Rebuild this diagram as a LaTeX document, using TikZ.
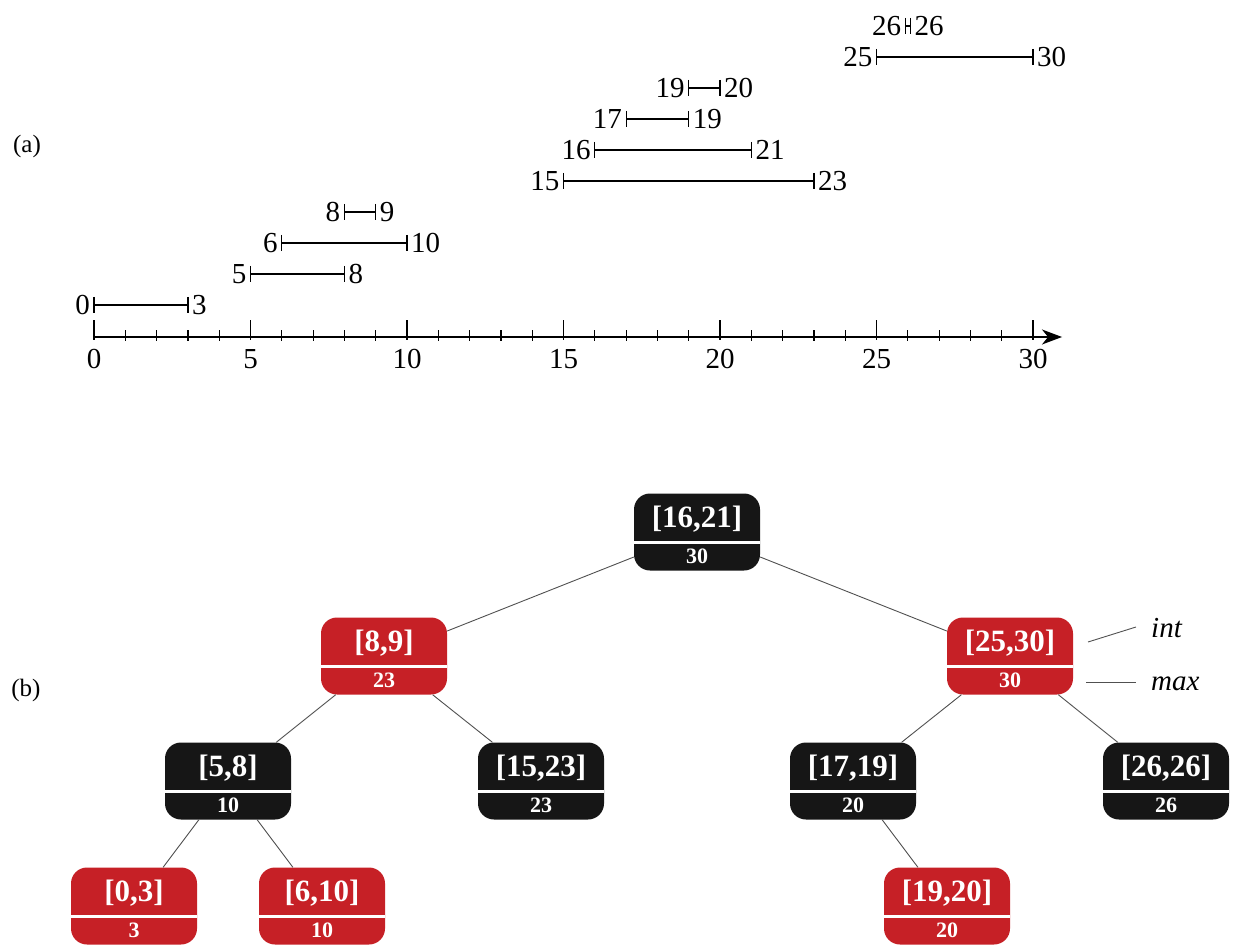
\documentclass[tikz,border=0pt]{standalone}
\usepackage{fontspec}
\setmainfont{Liberation Serif}
\usetikzlibrary{arrows.meta}
\definecolor{treered}{RGB}{198,32,38}
\definecolor{treeblack}{RGB}{22,22,22}
\definecolor{edgegray}{RGB}{80,80,80}
\newcommand\numfnt{\fontsize{29}{34}\selectfont}
\newcommand\intfnt{\bfseries\fontsize{31}{36}\selectfont}
\newcommand\maxfnt{\bfseries\fontsize{22}{26}\selectfont}
\newcommand\tnode[6]{%
  \node[tbox, fill=#4] (#1) at (#2,#3) {};
  \draw[divider] ([yshift=-10.5pt]#1.west) -- ([yshift=-10.5pt]#1.east);
  \node[inttxt] (#1i) at ([yshift=13pt]#1.center) {#5};
  \node[maxtxt] (#1m) at ([yshift=-24.5pt]#1.center) {#6};
}
\begin{document}
\begin{tikzpicture}[x=1pt,y=-1pt,
  tbox/.style={rectangle, rounded corners=16pt, minimum width=126pt, minimum height=77pt, inner sep=0pt, draw=none},
  divider/.style={white, line width=2.2pt},
  inttxt/.style={text=white, font=\intfnt, inner sep=0pt},
  maxtxt/.style={text=white, font=\maxfnt, inner sep=0pt},
  treeedge/.style={edgegray, line width=0.9pt},
  axisline/.style={line width=1.3pt, -{Stealth[length=20pt, width=15pt, inset=6pt]}},
  tickline/.style={line width=1.2pt},
  ivl/.style={line width=1.2pt},
  numlbl/.style={font=\numfnt, inner sep=0pt},
  partlbl/.style={font=\fontsize{25}{30}\selectfont, inner sep=0pt},
  annot/.style={font=\itshape\fontsize{29}{34}\selectfont, inner sep=0pt, anchor=west},
  annotline/.style={edgegray, line width=0.9pt}]
\useasboundingbox (0,0) rectangle (1233,949);

% ---------- (a) ----------
\node[partlbl] (pa) at (27,146) {(a)};
\coordinate (ax0) at (94,337);
\coordinate (axend) at (1062,337);
\draw[axisline] (ax0) -- (axend);
\foreach \v in {0,...,30}{
  \pgfmathsetmacro\xx{94+31.3*\v}
  \pgfmathtruncatemacro\md{mod(\v,5)}
  \ifnum\md=0
    \draw[tickline] (\xx,320) -- (\xx,340);
    \node[numlbl] (t\v) at (\xx,359) {\v};
  \else
    \draw[tickline] (\xx,330) -- (\xx,341);
  \fi
}
\foreach \a/\b/\r in {0/3/0, 5/8/1, 6/10/2, 8/9/3, 15/23/4, 16/21/5, 17/19/6, 19/20/7, 25/30/8, 26/26/9}{
  \pgfmathsetmacro\yy{305-31*\r}
  \ifnum\a=\b
    \pgfmathsetmacro\xa{94+31.3*\a-2.5}
    \pgfmathsetmacro\xb{94+31.3*\b+2.5}
  \else
    \pgfmathsetmacro\xa{94+31.3*\a}
    \pgfmathsetmacro\xb{94+31.3*\b}
  \fi
  \coordinate (s\r) at (\xa,\yy);
  \coordinate (e\r) at (\xb,\yy);
  \draw[ivl] (s\r) -- (e\r);
  \draw[ivl] ([yshift=8pt]s\r) -- ([yshift=-8pt]s\r);
  \draw[ivl] ([yshift=8pt]e\r) -- ([yshift=-8pt]e\r);
  \node[numlbl, anchor=east] (ls\r) at ([xshift=-4pt]s\r) {\a};
  \node[numlbl, anchor=west] (le\r) at ([xshift=4pt]e\r) {\b};
}

% ---------- (b) ----------
\node[partlbl] (pb) at (26,690) {(b)};
\tnode{n1621}{697}{532}{treeblack}{[16,21]}{30}
\tnode{n89}{384}{656}{treered}{[8,9]}{23}
\tnode{n2530}{1010}{656}{treered}{[25,30]}{30}
\tnode{n58}{228}{781}{treeblack}{[5,8]}{10}
\tnode{n1523}{541}{781}{treeblack}{[15,23]}{23}
\tnode{n1719}{853}{781}{treeblack}{[17,19]}{20}
\tnode{n2626}{1166}{781}{treeblack}{[26,26]}{26}
\tnode{n03}{134}{906}{treered}{[0,3]}{3}
\tnode{n610}{322}{906}{treered}{[6,10]}{10}
\tnode{n1920}{947}{906}{treered}{[19,20]}{20}

\draw[treeedge] (n1621) -- (n89);
\draw[treeedge] (n1621) -- (n2530);
\draw[treeedge] (n89) -- (n58);
\draw[treeedge] (n89) -- (n1523);
\draw[treeedge] (n2530) -- (n1719);
\draw[treeedge] (n2530) -- (n2626);
\draw[treeedge] (n58) -- (n03);
\draw[treeedge] (n58) -- (n610);
\draw[treeedge] (n1719) -- (n1920);

\node[annot] (lint) at (1151,628) {int};
\node[annot] (lmax) at (1151,684) {max};
\coordinate (ia) at (1088,642);
\coordinate (ib) at (1136,627);
\coordinate (ma) at (1086,682);
\coordinate (mb) at (1136,682);
\draw[annotline] (ia) -- (ib);
\draw[annotline] (ma) -- (mb);
\end{tikzpicture}
\end{document}
